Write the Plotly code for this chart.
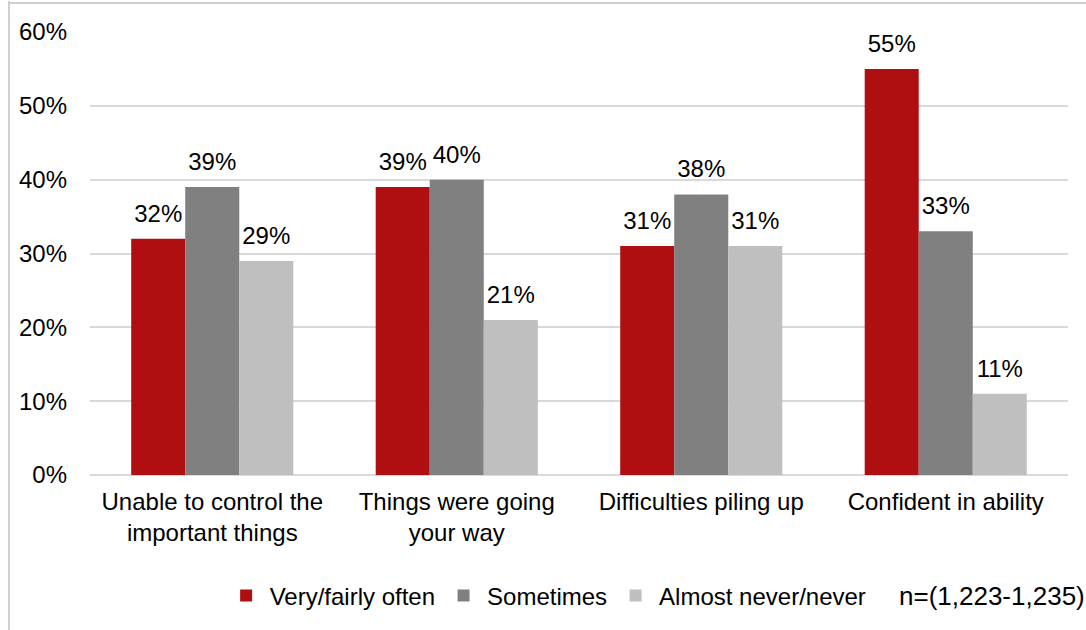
import plotly.graph_objects as go

categories = ["Unable to control the<br>important things", "Things were going<br>your way",
              "Difficulties piling up", "Confident in ability"]
series_names = ["Very/fairly often", "Sometimes", "Almost never/never"]
very_often = [32, 39, 31, 55]
sometimes = [39, 40, 38, 33]
almost_never = [29, 21, 31, 11]
colors = ["#B00F12", "#808080", "#BFBFBF"]
tick_vals = [0, 10, 20, 30, 40, 50, 60]
tick_text = ["0%", "10%", "20%", "30%", "40%", "50%", "60%"]
note_text = "n=(1,223-1,235)"

font = "Liberation Sans, Arial, sans-serif"
FS = 24
fig = go.Figure()
all_series = [very_often, sometimes, almost_never]
for i, (name, vals, c) in enumerate(zip(series_names, all_series, colors)):
    fig.add_trace(go.Bar(
        x=categories, y=vals, name=name, marker=dict(color=c, line=dict(width=0)),
        offsetgroup=str(i), alignmentgroup="a", hoverinfo="skip",
    ))
for i, vals in enumerate(all_series):
    fig.add_trace(go.Scatter(
        x=categories, y=vals, mode="markers+text", showlegend=False,
        marker=dict(size=16, opacity=0), offsetgroup=str(i), alignmentgroup="a",
        text=[f"{v}%" for v in vals], textposition="top center", cliponaxis=False,
        textfont=dict(size=FS, color="#000000", family=font), hoverinfo="skip",
    ))

fig.update_layout(
    width=1086, height=630,
    margin=dict(l=90, r=18, t=32, b=155),
    paper_bgcolor="white", plot_bgcolor="white",
    barmode="group", bargap=0.337, bargroupgap=0,
    scattermode="group", scattergap=0.337,
    font=dict(family=font, size=FS, color="#000000"),
    showlegend=True,
    legend=dict(orientation="h", x=0.205, xanchor="left", xref="container",
                y=0.090, yanchor="top", yref="container",
                font=dict(size=FS, family=font), itemwidth=37, traceorder="normal"),
)
fig.update_xaxes(showline=False, ticks="", tickfont=dict(size=FS, family=font))
fig.layout.xaxis.ticklabelstandoff = 10
fig.update_yaxes(range=[0, 60], tickvals=tick_vals, ticktext=tick_text,
                 showgrid=True, gridcolor="#D9D9D9", gridwidth=1.5,
                 zeroline=True, zerolinecolor="#D9D9D9", zerolinewidth=1.5,
                 tickfont=dict(size=FS, family=font), ticks="", ticklen=0)
fig.layout.yaxis.ticklabelstandoff = 22

fig.add_annotation(text=note_text, xref="paper", yref="paper",
                   x=1.0, xanchor="left", y=-0.273, yanchor="middle",
                   xshift=-171, showarrow=False, font=dict(size=26, family=font))
# border frame (left and top lines of the slide box)
fig.add_shape(type="line", xref="paper", yref="paper", x0=-0.0828, x1=-0.0828, y0=-0.40, y1=1.07,
              line=dict(color="#D0D0D0", width=2))
fig.add_shape(type="line", xref="paper", yref="paper", x0=-0.0828, x1=1.02, y0=1.0655, y1=1.0655,
              line=dict(color="#D0D0D0", width=2))

fig.write_html("out.html", config={"displayModeBar": False},
               post_script="document.body.style.margin='0px';")
